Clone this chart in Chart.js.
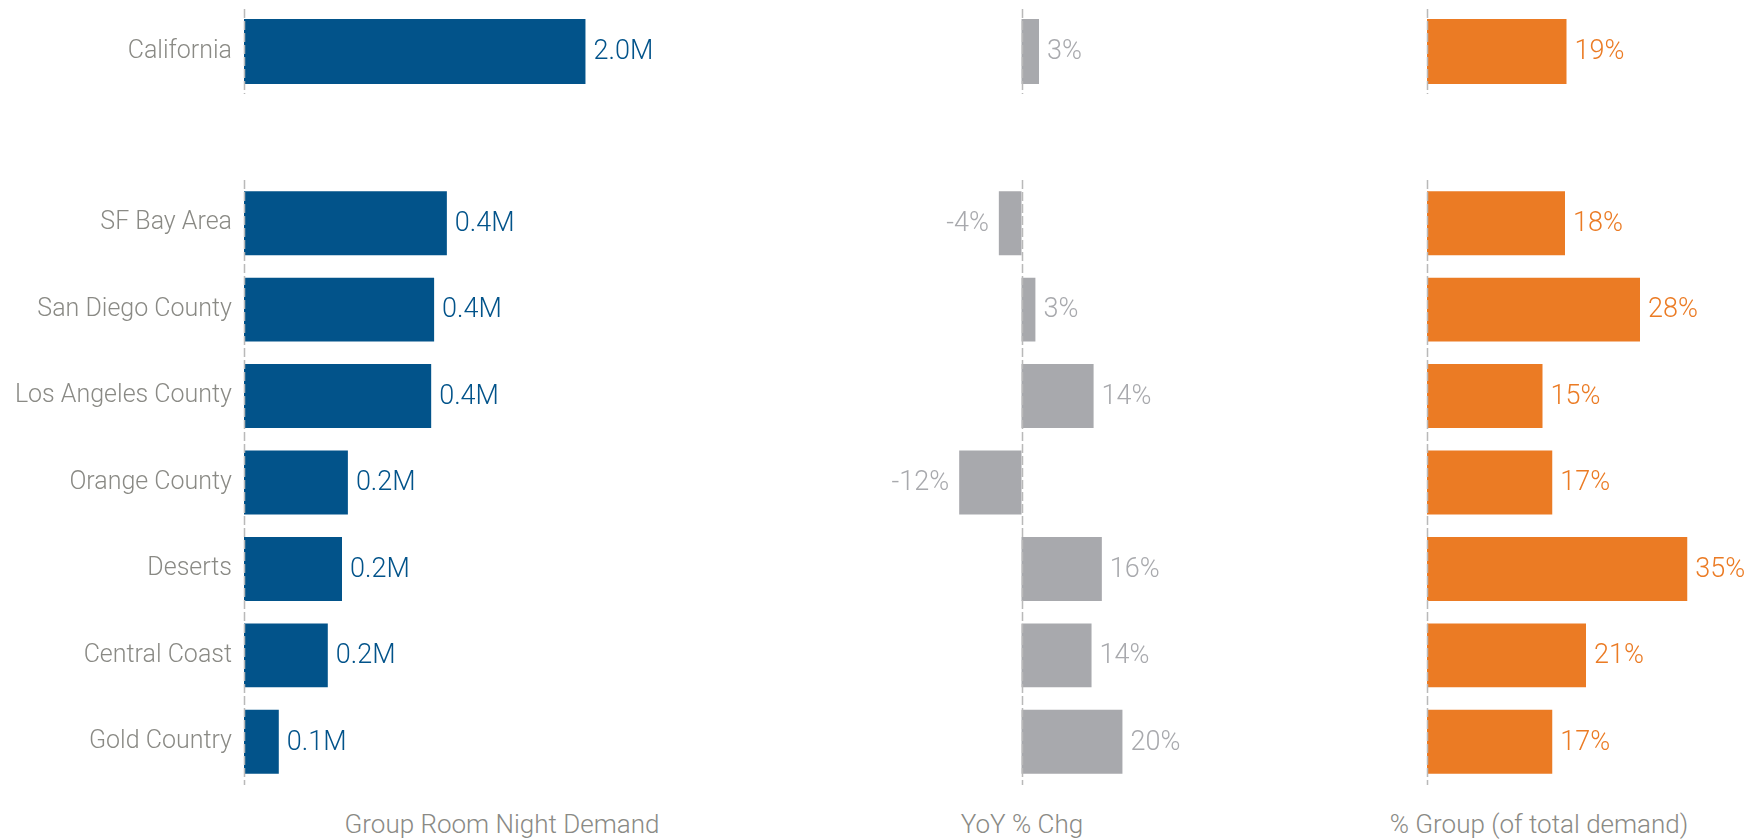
<!DOCTYPE html>
<html>
<head>
<meta charset="utf-8">
<script src="https://cdn.jsdelivr.net/npm/chart.js@4/dist/chart.umd.min.js"></script>
<style>
  html, body { margin: 0; padding: 0; background: #ffffff; width: 1757px; height: 839px; overflow: hidden; }
  canvas { position: absolute; }
  .axis-title { position: absolute; top: 811px; font-family: Roboto, "Liberation Sans", sans-serif; font-weight: 300; font-size: 26px; line-height: 26px; color: #8a8a85; white-space: nowrap; transform: translateX(-50%); }
</style>
</head>
<body>
<canvas id="cDemandTop" width="760" height="100" style="left:0px;top:2px"></canvas>
<canvas id="cYoyTop" width="360" height="100" style="left:840px;top:2px"></canvas>
<canvas id="cShareTop" width="357" height="100" style="left:1400px;top:2px"></canvas>
<canvas id="cDemand" width="760" height="620" style="left:0px;top:172px"></canvas>
<canvas id="cYoy" width="360" height="620" style="left:840px;top:172px"></canvas>
<canvas id="cShare" width="357" height="620" style="left:1400px;top:172px"></canvas>
<div class="axis-title" id="t0" style="left:502px"></div>
<div class="axis-title" id="t1" style="left:1022px"></div>
<div class="axis-title" id="t2" style="left:1539px"></div>
<script>
// ---- data ----
const topCategory = ['California'];
const categories = ['SF Bay Area', 'San Diego County', 'Los Angeles County', 'Orange County', 'Deserts', 'Central Coast', 'Gold Country'];
const demandTop = [2.0];                                   // millions of group room nights
const demandRegions = [0.414, 0.388, 0.382, 0.212, 0.200, 0.171, 0.071];
const yoyTop = [3.4];                                      // YoY % change
const yoyRegions = [-4.4, 2.7, 14.0, -12.1, 15.6, 13.6, 19.6];
const shareTop = [18.6];                                   // % group of total demand
const shareRegions = [18.4, 28.4, 15.4, 16.7, 34.7, 21.2, 16.7];
const axisTitles = ['Group Room Night Demand', 'YoY % Chg', '% Group (of total demand)'];

// ---- styles ----
const FONT = 'Roboto, "Liberation Sans", sans-serif';
const LABEL_GREY = '#8a8a85';
const BLUE = '#02538a';
const GREY = '#a8a9ad';
const ORANGE = '#eb7b24';

axisTitles.forEach((t, i) => { document.getElementById('t' + i).textContent = t; });

const zeroLinePlugin = {
  id: 'zeroLine',
  afterDatasetsDraw(chart) {
    const ctx = chart.ctx, area = chart.chartArea;
    const x0 = Math.round(chart.scales.x.getPixelForValue(0)) + 0.5;
    ctx.save();
    ctx.strokeStyle = '#b9b9b9';
    ctx.lineWidth = 1.5;
    ctx.setLineDash([9, 3]);
    ctx.beginPath();
    ctx.moveTo(x0, area.top);
    ctx.lineTo(x0, area.bottom);
    ctx.stroke();
    ctx.restore();
  }
};

const valueLabelPlugin = {
  id: 'valueLabels',
  afterDatasetsDraw(chart, args, opts) {
    const ctx = chart.ctx;
    const meta = chart.getDatasetMeta(0);
    const values = chart.data.datasets[0].data;
    ctx.save();
    ctx.font = '300 27px ' + FONT;
    ctx.fillStyle = opts.color;
    ctx.textBaseline = 'middle';
    meta.data.forEach((bar, i) => {
      const v = values[i];
      const txt = opts.format(v);
      if (v >= 0) {
        ctx.textAlign = 'left';
        ctx.fillText(txt, bar.x + 8, bar.y + 1);
      } else {
        ctx.textAlign = 'right';
        ctx.fillText(txt, bar.x - 10, bar.y + 1);
      }
    });
    ctx.restore();
  }
};

function makeChart(id, labels, values, cfg) {
  return new Chart(document.getElementById(id), {
    type: 'bar',
    data: {
      labels: labels,
      datasets: [{
        data: values,
        backgroundColor: cfg.color,
        borderWidth: 0,
        barPercentage: cfg.barPct,
        categoryPercentage: 1
      }]
    },
    options: {
      indexAxis: 'y',
      responsive: false,
      animation: false,
      events: [],
      layout: { padding: cfg.padding },
      plugins: {
        legend: { display: false },
        tooltip: { enabled: false },
        valueLabels: { color: cfg.color, format: cfg.format }
      },
      scales: {
        x: { display: false, min: cfg.min, max: cfg.max },
        y: {
          display: cfg.showLabels,
          grid: { display: false, drawTicks: false },
          border: { display: false },
          ticks: { color: LABEL_GREY, padding: 12, font: { family: FONT, size: 25, weight: 300 } },
          afterFit(scale) {
            if (cfg.showLabels) {
              scale.width = 244;
              scale.paddingTop = 0;
              scale.paddingBottom = 0;
            }
          }
        }
      }
    },
    plugins: [zeroLinePlugin, valueLabelPlugin]
  });
}

const fmtM = v => v.toFixed(1) + 'M';
const fmtPct = v => Math.round(v) + '%';

const padTop = { top: 7, bottom: 8 };
const padBot = { top: 8, bottom: 7 };

makeChart('cDemandTop', topCategory, demandTop, { color: BLUE, min: 0, max: 2.87, showLabels: true, barPct: 0.765, format: fmtM, padding: Object.assign({ left: 0, right: 26 }, padTop) });
makeChart('cDemand', categories, demandRegions, { color: BLUE, min: 0, max: 1.0, showLabels: true, barPct: 0.74, format: fmtM, padding: Object.assign({ left: 0, right: 26 }, padBot) });
makeChart('cYoyTop', topCategory, yoyTop, { color: GREY, min: -30, max: 30, showLabels: false, barPct: 0.765, format: fmtPct, padding: Object.assign({ left: 27, right: 24 }, padTop) });
makeChart('cYoy', categories, yoyRegions, { color: GREY, min: -30, max: 30, showLabels: false, barPct: 0.74, format: fmtPct, padding: Object.assign({ left: 27, right: 24 }, padBot) });
makeChart('cShareTop', topCategory, shareTop, { color: ORANGE, min: 0, max: 40, showLabels: false, barPct: 0.765, format: fmtPct, padding: Object.assign({ left: 27, right: 30 }, padTop) });
makeChart('cShare', categories, shareRegions, { color: ORANGE, min: 0, max: 40, showLabels: false, barPct: 0.74, format: fmtPct, padding: Object.assign({ left: 27, right: 30 }, padBot) });
</script>
</body>
</html>
